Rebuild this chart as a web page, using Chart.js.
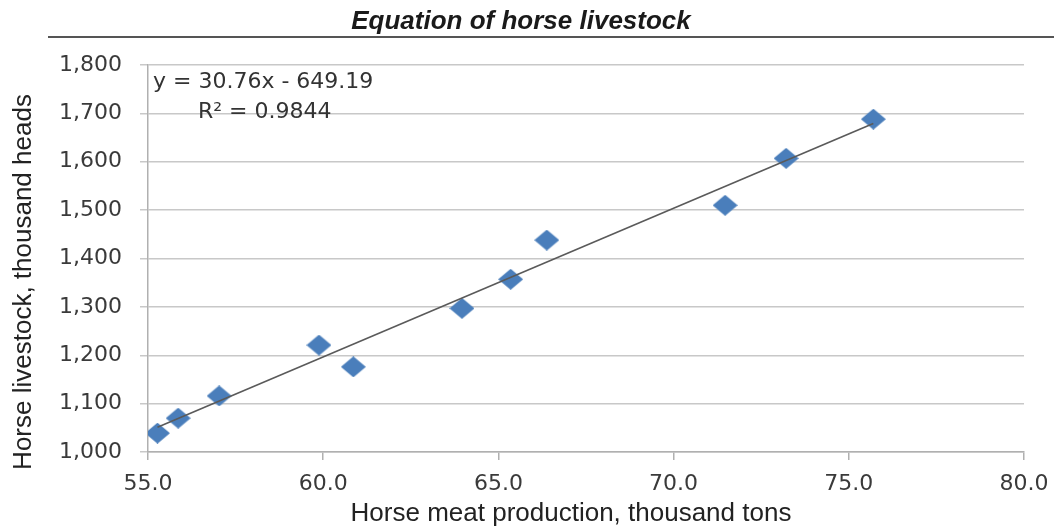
<!DOCTYPE html>
<html>
<head>
<meta charset="utf-8">
<script src="https://cdn.jsdelivr.net/npm/chart.js@4/dist/chart.umd.min.js"></script>
<style>
  html, body { margin: 0; padding: 0; background: #fff; }
  #wrap { width: 1054px; height: 532px; }
</style>
</head>
<body>
<div id="wrap"><canvas id="myChart" width="1054" height="532"></canvas></div>
<script>
(function () {
  'use strict'

  // values
  var meatTons = [55.27, 55.86, 57.03, 59.88, 60.86, 63.96, 65.35, 66.38, 71.47, 73.21, 75.70]
  var livestock = [1039, 1070, 1116, 1221, 1176, 1297, 1357, 1438, 1510, 1607, 1688]

  // linear trend line end points (y = 30.76x - 649.19)
  var trendX = [55.27, 75.70]
  var trendY = [1051, 1679]

  var titleText = 'Equation of horse livestock'
  var xTitle = 'Horse meat production, thousand tons'
  var yTitle = 'Horse livestock, thousand heads'
  var eqLines = ['y = 30.76x - 649.19', 'R\u00b2 = 0.9844']

  var points = meatTons.map(function (x, i) { return { x: x, y: livestock[i] } })
  var trend = trendX.map(function (x, i) { return { x: x, y: trendY[i] } })

  // slightly flattened diamond marker
  var marker = document.createElement('canvas')
  marker.width = 25
  marker.height = 21
  var mc = marker.getContext('2d')
  mc.fillStyle = '#4a7ebb'
  mc.beginPath()
  mc.moveTo(12.5, 0)
  mc.lineTo(25, 10.5)
  mc.lineTo(12.5, 21)
  mc.lineTo(0, 10.5)
  mc.closePath()
  mc.fill()

  var decorations = {
    id: 'decorations',
    afterDraw: function (chart) {
      var c = chart.ctx
      var area = chart.chartArea
      c.save()
      // title
      c.fillStyle = '#1a1a1a'
      c.font = 'italic bold 26px "Liberation Sans", Arial, sans-serif'
      c.textAlign = 'center'
      c.textBaseline = 'middle'
      c.fillText(titleText, 521, 22)
      // rule under the title
      c.strokeStyle = '#555'
      c.lineWidth = 2
      c.beginPath()
      c.moveTo(48, 37)
      c.lineTo(1054, 37)
      c.stroke()
      // axis titles
      c.fillStyle = '#222'
      c.font = '26px "Liberation Sans", Arial, sans-serif'
      c.fillText(xTitle, 571, 514)
      c.translate(24, 282)
      c.rotate(-Math.PI / 2)
      c.fillText(yTitle, 0, 0)
      c.restore()
      // equation label
      c.save()
      c.fillStyle = '#333'
      c.font = '22px "DejaVu Sans", sans-serif'
      c.textAlign = 'left'
      c.textBaseline = 'middle'
      c.fillText(eqLines[0], area.left + 5, 82)
      c.fillText(eqLines[1], area.left + 50, 112)
      c.restore()
    }
  }

  var ctx = document.getElementById('myChart')
  new Chart(ctx, {
    type: 'scatter',
    data: {
      datasets: [{
        data: trend,
        showLine: true,
        borderColor: '#5a5a5a',
        borderWidth: 1.6,
        pointRadius: 0,
        fill: false
      }, {
        data: points,
        pointStyle: marker,
        pointRadius: 12,
        backgroundColor: '#4a7ebb',
        borderWidth: 0
      }]
    },
    options: {
      responsive: false,
      animation: false,
      layout: { padding: { left: 0, right: 30, top: 65, bottom: 0 } },
      plugins: {
        legend: { display: false },
        tooltip: { enabled: false },
        title: { display: false }
      },
      scales: {
        x: {
          type: 'linear',
          min: 55,
          max: 80,
          afterFit: function (scale) {
            scale.height = 80
            scale.paddingLeft = 0
            scale.paddingRight = 0
          },
          ticks: {
            stepSize: 5,
            padding: 11,
            color: '#3a3a3a',
            font: { family: '"DejaVu Sans", sans-serif', size: 22 },
            callback: function (v) { return v.toFixed(1) }
          },
          grid: {
            drawOnChartArea: false,
            drawTicks: true,
            tickLength: 8,
            color: '#b0b0b0',
            lineWidth: 1.5
          },
          border: { color: '#b0b0b0', width: 1.5 }
        },
        y: {
          min: 1000,
          max: 1800,
          afterFit: function (scale) {
            scale.width = 148
            scale.paddingTop = 0
            scale.paddingBottom = 0
          },
          ticks: {
            stepSize: 100,
            padding: 18,
            color: '#3a3a3a',
            font: { family: '"DejaVu Sans", sans-serif', size: 22 },
            callback: function (v) { return v.toLocaleString('en-US') }
          },
          grid: {
            tickLength: 8,
            color: '#c8c8c8',
            lineWidth: 1.5
          },
          border: { color: '#b0b0b0', width: 1.5 }
        }
      }
    },
    plugins: [decorations]
  })
})()
</script>
</body>
</html>
